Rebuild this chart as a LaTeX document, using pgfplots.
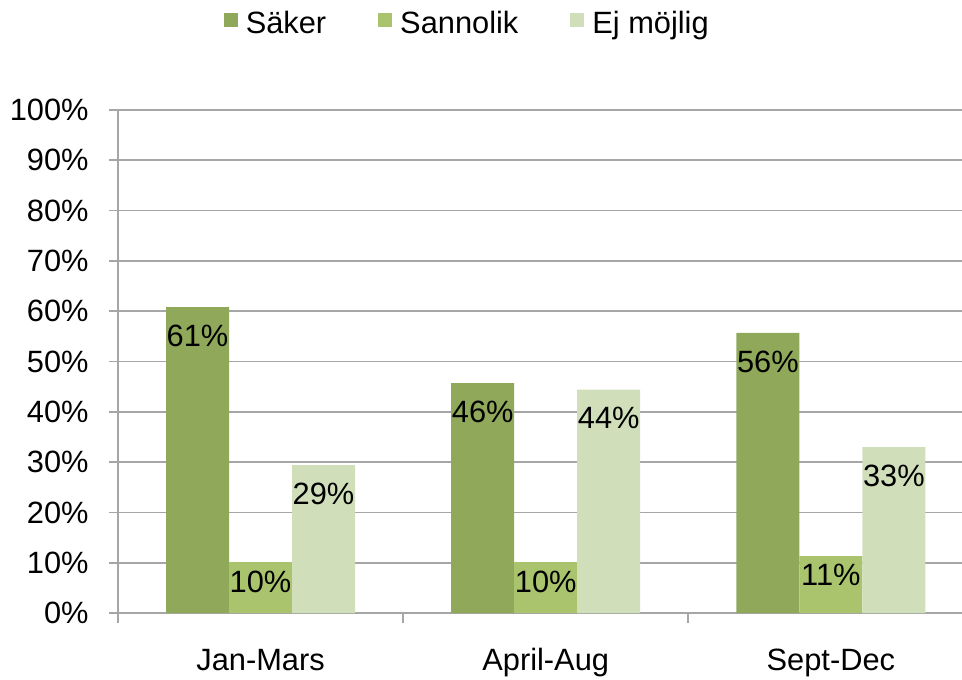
\documentclass[border=0pt]{standalone}
\usepackage{pgfplots}
\pgfplotsset{compat=1.18}
\usepackage{fontspec}
\setmainfont{Liberation Sans}
\definecolor{saker}{HTML}{8FA85A}
\definecolor{sannolik}{HTML}{A9C46C}
\definecolor{ej}{HTML}{D1DEBA}
\definecolor{gridc}{HTML}{A6A6A6}
\newcommand{\fs}{\fontsize{15.4pt}{18pt}\selectfont}
\begin{document}
\begin{tikzpicture}
\path[use as bounding box] (-59pt,-33pt) rectangle (422pt,306.5pt);
\begin{axis}[
  at={(0pt,0pt)}, anchor=south west,
  scale only axis, width=422pt, height=251.5pt,
  xmin=-0.5, xmax=2.46, ymin=0, ymax=100,
  ybar=0pt, bar width=31.5pt,
  axis lines*=left,
  axis line style={gridc, line width=1pt},
  ymajorgrids, grid style={gridc, line width=0.8pt},
  ytick={0,10,...,100},
  yticklabels={0\%,10\%,20\%,30\%,40\%,50\%,60\%,70\%,80\%,90\%,100\%},
  xtick={0,1,2},
  xticklabels={Jan-Mars,April-Aug,Sept-Dec},
  minor xtick={-0.5,0.5,1.5},
  tick align=outside,
  major tick length=4.5pt, minor tick length=5pt,
  major x tick style={draw=none},
  minor x tick style={draw=gridc, line width=1pt},
  major y tick style={draw=gridc, line width=0.8pt},
  tick label style={font=\fs, text=black},
  yticklabel style={inner sep=0pt, xshift=-10pt},
  xticklabel style={anchor=base, inner sep=0pt, yshift=-24pt},
  nodes near coords={\pgfmathprintnumber[assume math mode=true,fixed,precision=0]{\pgfplotspointmeta}\%},
  visualization depends on={y \as \yv},
  every node near coord/.append style={font=\fs, text=black, anchor=north, inner sep=0pt,
     yshift={ifthenelse(\yv<15,-4,-8.75)}},
  legend style={at={(0.415,1.171)}, anchor=center, draw=none, fill=none,
     legend columns=-1, font=\fs,
     /tikz/every odd column/.append style={column sep=2pt},
     /tikz/every even column/.append style={column sep=24pt}},
  legend image code/.code={\fill[#1] (0pt,-1.6pt) rectangle (7pt,5.4pt);},
]
\addplot[fill=saker, draw=none] coordinates {(0,60.8) (1,45.7) (2,55.7)};
\addplot[fill=sannolik, draw=none] coordinates {(0,10.1) (1,10.1) (2,11.3)};
\addplot[fill=ej, draw=none] coordinates {(0,29.4) (1,44.4) (2,33.0)};
\legend{Säker,Sannolik,Ej möjlig}
\end{axis}
\end{tikzpicture}
\end{document}
